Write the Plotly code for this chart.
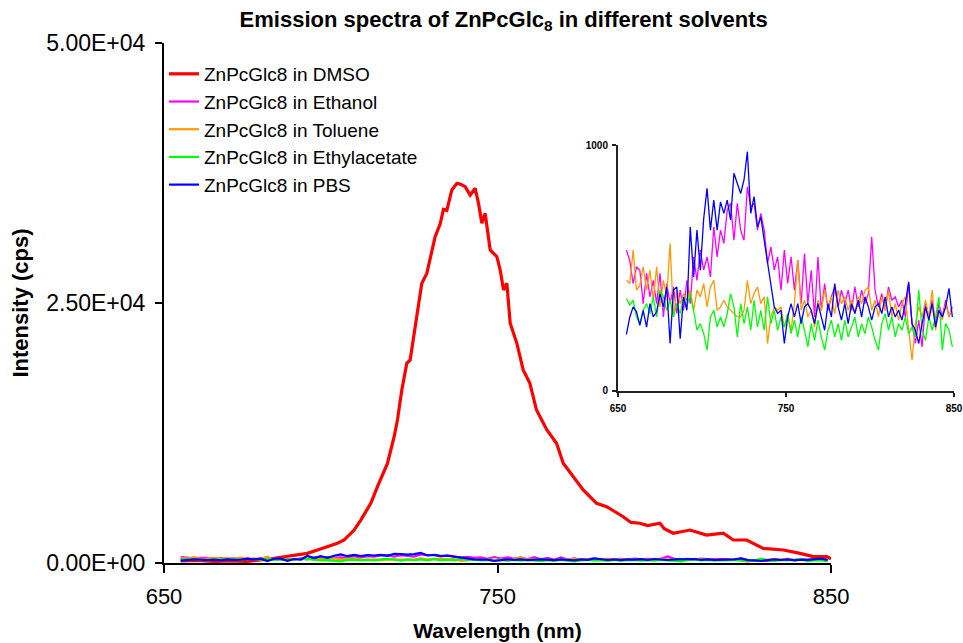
import numpy as np
import plotly.graph_objects as go

# ---------------- data ----------------
# DMSO emission (cps) sampled along its own wavelength list (nm)
dmso_wl = [655, 660, 665, 670, 675, 680, 683, 686, 690, 693, 696, 699, 702, 704,
           707, 709, 712, 714, 717, 719, 720, 721.3, 722.8, 723.8, 725.8, 727.3,
           728.8, 730.3, 731.3, 732.8, 733.8, 734.8, 736.3, 737.8, 738.8, 740.3,
           741.8, 743.3, 744.3, 745.3, 746.3, 747.8, 749.8, 750.8, 751.8, 752.8,
           753.8, 755.8, 757.7, 759.7, 761.7, 764.8, 767.7, 769.7, 772.7, 775.7,
           779.7, 782.7, 787.7, 790, 792.7, 795, 798.7, 800, 802.7, 807.7, 812.7,
           817.7, 820.7, 824.7, 829.7, 835.7, 840.7, 844.7, 848.7, 850]
dmso_int = [200, 250, 150, 200, 150, 300, 450, 600, 800, 930, 1250, 1570, 1900, 2210,
            3170, 4130, 5740, 7340, 9580, 12140, 13750, 16630, 19200, 19520, 23680, 26890,
            27850, 29780, 31380, 32600, 34000, 33900, 35870, 36500, 36440, 36190,
            35380, 36030, 34580, 32660, 33620, 30100, 29450, 28170, 26250, 26890,
            23050, 21120, 18560, 17280, 14710, 12790, 11510, 9590, 8300, 7020,
            5740, 5410, 4450, 3900, 3820, 3600, 3820, 3300, 2860, 3170, 2690,
            2860, 2210, 2210, 1410, 1250, 930, 610, 610, 400]

# the weaker solvents share a 2 nm sampling grid
grid_wl = np.arange(655, 851, 2)

ethanol = [573, 530, 437, 505, 491, 355, 478, 383, 450, 355, 478, 301, 437, 355, 423,
           315, 410, 328, 450, 355, 545, 450, 573, 491, 545, 464, 667, 545, 654, 600,
           735, 763, 613, 763, 654, 613, 830, 749, 763, 654, 722, 654, 520, 586, 491,
           545, 410, 573, 437, 545, 410, 532, 355, 559, 355, 491, 301, 545, 328, 437,
           328, 383, 423, 342, 410, 355, 410, 328, 423, 342, 410, 355, 396, 627, 410,
           342, 396, 328, 423, 369, 383, 342, 369, 301, 437, 274, 193, 288, 179, 355,
           301, 369, 274, 355, 301, 369, 301, 342]

toluene = [450, 437, 573, 410, 430, 505, 410, 491, 369, 505, 342, 450, 383, 600, 301,
           410, 355, 396, 369, 410, 328, 410, 383, 437, 342, 423, 450, 328, 342, 369,
           342, 328, 315, 301, 301, 328, 450, 355, 396, 423, 355, 383, 193, 301, 342,
           328, 342, 260, 301, 247, 355, 532, 328, 369, 301, 328, 260, 369, 328, 410,
           342, 383, 315, 410, 355, 383, 328, 369, 315, 383, 355, 410, 423, 328, 369,
           301, 383, 328, 410, 301, 355, 288, 355, 383, 247, 125, 274, 342, 301, 369,
           301, 410, 247, 328, 288, 355, 301, 342]

ethylacetate = [376, 350, 369, 301, 274, 328, 355, 315, 383, 301, 410, 383, 328, 369, 301,
                355, 315, 383, 342, 396, 328, 247, 274, 233, 166, 301, 328, 260, 301, 260,
                315, 396, 342, 220, 355, 274, 342, 247, 369, 260, 328, 247, 383, 274, 328,
                247, 301, 260, 315, 233, 288, 220, 301, 247, 179, 274, 206, 288, 220, 166,
                247, 288, 220, 274, 206, 288, 220, 260, 301, 220, 274, 233, 301, 260, 206,
                166, 274, 315, 247, 301, 220, 274, 247, 301, 233, 260, 220, 410, 247, 206,
                301, 247, 301, 383, 166, 274, 247, 179]

pbs = [230, 300, 342, 322, 267, 328, 260, 355, 301, 322, 396, 342, 423, 193, 410,
       423, 213, 383, 328, 667, 464, 654, 491, 701, 824, 654, 776, 654, 769, 722,
       776, 695, 885, 844, 803, 858, 973, 722, 790, 667, 708, 613, 518, 423, 342,
       315, 328, 193, 301, 355, 301, 355, 274, 342, 355, 328, 274, 355, 301, 247,
       355, 301, 437, 342, 288, 355, 274, 355, 315, 369, 301, 383, 342, 288, 342,
       355, 315, 383, 301, 342, 301, 328, 288, 355, 444, 274, 247, 193, 274, 342,
       288, 355, 260, 328, 301, 342, 417, 301]

weak = [
    ("ZnPcGlc8 in Ethanol", ethanol, "#FF00FF"),
    ("ZnPcGlc8 in Toluene", toluene, "#FF9900"),
    ("ZnPcGlc8 in Ethylacetate", ethylacetate, "#00FF00"),
    ("ZnPcGlc8 in PBS", pbs, "#0000FF"),
]

x_ticks = [650, 750, 850]
y_ticks = [0, 25000, 50000]
y_ticktext = ["0.00E+00", "2.50E+04", "5.00E+04"]
inset_y_ticks = [0, 1000]

FONT = "Liberation Sans, Arial, sans-serif"

fig = go.Figure()

# main panel
fig.add_trace(go.Scatter(x=dmso_wl, y=dmso_int, mode="lines",
                         name="ZnPcGlc8 in DMSO", legendgroup="dmso",
                         line=dict(color="#FF0000", width=3.2),
                         xaxis="x", yaxis="y"))
for name, vals, col in weak:
    fig.add_trace(go.Scatter(x=grid_wl, y=vals, mode="lines", name=name,
                             legendgroup=name, line=dict(color=col, width=2.2),
                             xaxis="x", yaxis="y"))

# inset panel (same weak spectra, expanded intensity scale)
for name, vals, col in weak:
    fig.add_trace(go.Scatter(x=grid_wl, y=vals, mode="lines", name=name,
                             legendgroup=name, showlegend=False,
                             line=dict(color=col, width=1.3),
                             xaxis="x2", yaxis="y2"))

fig.update_layout(
    width=963, height=643,
    margin=dict(l=164, r=5, t=43, b=80, autoexpand=False),
    paper_bgcolor="white", plot_bgcolor="rgba(0,0,0,0)",
    font=dict(family=FONT, color="black"),
    title=dict(text="<b>Emission spectra of ZnPcGlc<sub>8</sub> in different solvents</b>",
               x=0.523, xref="container", xanchor="center",
               y=1 - 19 / 643, yref="container", yanchor="middle",
               font=dict(size=22, family=FONT, color="black")),
    showlegend=True,
    legend=dict(x=0.0, y=0.977, xanchor="left", yanchor="top",
                bgcolor="rgba(0,0,0,0)", borderwidth=0,
                font=dict(size=19, family=FONT, color="black"),
                tracegroupgap=0, itemwidth=30),
    xaxis=dict(domain=[0, 0.8401], range=[650, 850], tickvals=x_ticks,
               automargin=False,
               showline=True, linecolor="black", linewidth=2,
               ticks="outside", ticklen=8, tickwidth=2, tickcolor="black",
               ticklabelstandoff=5, tickfont=dict(size=22, family=FONT),
               showgrid=False, zeroline=False,
               title=dict(text="<b>Wavelength (nm)</b>", standoff=15,
                          font=dict(size=21, family=FONT))),
    yaxis=dict(domain=[0, 1], range=[0, 50000], tickvals=y_ticks, ticktext=y_ticktext,
               automargin=False,
               showline=True, linecolor="black", linewidth=2,
               ticks="outside", ticklen=7, tickwidth=2, tickcolor="black",
               ticklabelstandoff=5, tickfont=dict(size=23, family=FONT),
               showgrid=False, zeroline=False,
               title=dict(text="<b>Intensity (cps)</b>", standoff=12,
                          font=dict(size=22, family=FONT))),
    xaxis2=dict(domain=[0.5718, 0.9950], range=[650, 850], anchor="y2",
                automargin=False,
                tickvals=x_ticks, showline=True, linecolor="#222222", linewidth=2,
                ticks="outside", ticklen=4, tickwidth=1.5, tickcolor="#222222",
                tickfont=dict(size=10, family=FONT, weight="bold"),
                ticklabelstandoff=3,
                showgrid=False, zeroline=False),
    yaxis2=dict(domain=[0.3308, 0.8038], range=[0, 1000], anchor="x2",
                automargin=False,
                tickvals=inset_y_ticks, showline=True, linecolor="#222222", linewidth=2,
                ticks="outside", ticklen=4, tickwidth=1.5, tickcolor="#222222",
                tickfont=dict(size=10, family=FONT, weight="bold"),
                ticklabelstandoff=2,
                showgrid=False, zeroline=False),
)

fig.write_html("out.html")
